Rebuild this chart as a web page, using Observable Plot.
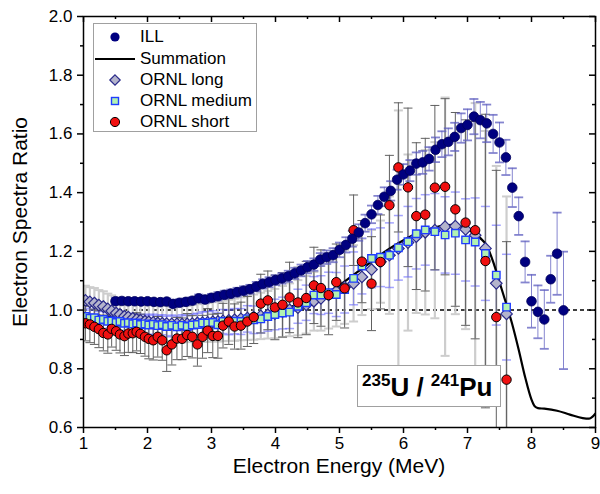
<!DOCTYPE html>
<html><head><meta charset="utf-8">
<script src="https://cdn.jsdelivr.net/npm/d3@7"></script>
<script src="https://cdn.jsdelivr.net/npm/@observablehq/plot@0.6"></script>
<style>
body{margin:0;background:#fff;}
#wrap{position:relative;width:600px;height:494px;font-family:"Liberation Sans",Arial,sans-serif;color:#000;}
#wrap svg{position:absolute;left:0;top:0;}
.ttl{position:absolute;font-size:21px;white-space:nowrap;}
#legend{position:absolute;left:93px;top:23px;width:164px;height:109px;border:1px solid #a0a0a0;background:#fff;box-sizing:border-box;}
.li{position:absolute;left:0;height:20px;width:160px;}
.li svg{position:absolute;left:0;top:0;}
.li span{position:absolute;left:46px;top:0;font-size:17px;line-height:20px;}
#iso{position:absolute;left:357px;top:365px;width:144px;height:42px;border:1px solid #a0a0a0;background:#fff;box-sizing:border-box;font-weight:bold;font-size:26px;white-space:nowrap;}
#iso .t{position:absolute;left:4px;top:6px;line-height:30px;}
#iso sup{font-size:17px;vertical-align:top;position:relative;top:-6px;}
</style></head><body><div id="wrap"></div>
<script>
// ---------- data ----------
const illE = [1.5,1.6,1.7,1.8,1.9,2.0,2.1,2.2,2.3,2.4,2.5,2.6,2.7,2.8,2.9,3.0,3.1,3.2,3.3,3.4,3.5,3.6,3.7,3.8,3.9,4.0,4.1,4.2,4.3,4.4,4.5,4.6,4.7,4.8,4.9,5.0,5.1,5.2,5.3,5.4,5.5,5.6,5.7,5.8,5.9,6.0,6.1,6.2,6.3,6.4,6.5,6.6,6.7,6.8,6.9,7.0,7.1,7.2,7.3,7.4,7.5,7.6,7.7,7.8,7.9,8.0,8.1,8.2,8.3,8.4,8.5];
const illV = [1.030,1.031,1.030,1.030,1.029,1.030,1.028,1.027,1.029,1.021,1.025,1.028,1.032,1.040,1.036,1.042,1.047,1.052,1.056,1.061,1.066,1.071,1.080,1.089,1.095,1.102,1.108,1.115,1.125,1.135,1.146,1.155,1.172,1.180,1.187,1.205,1.222,1.243,1.264,1.296,1.326,1.358,1.386,1.406,1.444,1.462,1.475,1.499,1.503,1.515,1.546,1.565,1.573,1.590,1.620,1.631,1.659,1.647,1.636,1.600,1.571,1.520,1.417,1.320,1.164,1.030,0.994,0.968,1.105,1.192,0.999];
const illErr = [0.012,0.011,0.011,0.010,0.010,0.010,0.010,0.011,0.011,0.012,0.012,0.012,0.012,0.013,0.013,0.013,0.014,0.014,0.014,0.015,0.015,0.015,0.016,0.016,0.017,0.017,0.018,0.019,0.019,0.020,0.021,0.021,0.022,0.023,0.024,0.025,0.026,0.027,0.028,0.029,0.030,0.031,0.032,0.033,0.034,0.035,0.036,0.038,0.039,0.040,0.042,0.044,0.046,0.048,0.050,0.053,0.060,0.062,0.064,0.065,0.068,0.060,0.066,0.064,0.070,0.090,0.090,0.100,0.080,0.140,0.200];

const ornlE = [1.03,1.10,1.17,1.24,1.31,1.38,1.44,1.51,1.57,1.64,1.70,1.77,1.83,1.89,1.96,2.02,2.09,2.16,2.23,2.30,2.38,2.46,2.54,2.62,2.70,2.78,2.86,2.94,3.02,3.10,3.18,3.27,3.36,3.46,3.56,3.66,3.77,3.88,3.99,4.11,4.22,4.35,4.48,4.60,4.71,4.83,4.95,5.08,5.22,5.35,5.50,5.64,5.78,5.92,6.07,6.20,6.34,6.49,6.65,6.81,6.97,7.12,7.28,7.45,7.61];
const longV = [1.033,1.028,1.024,1.017,1.012,1.004,0.997,0.990,0.985,0.979,0.976,0.972,0.968,0.965,0.962,0.960,0.958,0.956,0.955,0.954,0.953,0.953,0.952,0.953,0.954,0.956,0.957,0.958,0.960,0.961,0.963,0.965,0.967,0.970,0.973,0.976,0.980,0.984,0.988,0.995,1.001,1.008,1.018,1.030,1.040,1.052,1.064,1.078,1.091,1.113,1.138,1.165,1.187,1.210,1.230,1.250,1.265,1.272,1.284,1.286,1.275,1.255,1.210,1.091,0.987];
const longErr = [0.050,0.050,0.051,0.051,0.052,0.052,0.053,0.053,0.054,0.054,0.055,0.055,0.056,0.056,0.057,0.057,0.058,0.058,0.059,0.060,0.060,0.061,0.062,0.062,0.063,0.064,0.065,0.066,0.067,0.068,0.069,0.070,0.072,0.073,0.075,0.077,0.079,0.081,0.084,0.087,0.090,0.094,0.098,0.100,0.110,0.115,0.120,0.125,0.130,0.130,0.135,0.140,0.200,0.470,0.300,0.260,0.280,0.300,0.440,0.300,0.340,0.450,0.400,0.400,0.400];
const mediumV = [0.978,0.972,0.974,0.966,0.968,0.962,0.963,0.958,0.961,0.955,0.957,0.953,0.956,0.951,0.953,0.949,0.952,0.947,0.950,0.944,0.948,0.943,0.948,0.944,0.949,0.951,0.956,0.956,0.958,0.950,0.961,0.958,0.962,0.961,0.970,0.967,0.970,0.978,0.985,0.990,0.993,1.013,1.025,1.051,1.051,1.059,1.053,1.070,1.108,1.150,1.176,1.180,1.187,1.212,1.233,1.260,1.273,1.267,1.256,1.262,1.239,1.232,1.193,1.119,1.010];
const mediumErr = [0.028,0.028,0.029,0.029,0.030,0.030,0.030,0.031,0.031,0.031,0.032,0.032,0.032,0.033,0.033,0.033,0.034,0.034,0.034,0.035,0.035,0.036,0.036,0.037,0.037,0.038,0.038,0.039,0.040,0.040,0.041,0.042,0.043,0.044,0.045,0.047,0.048,0.050,0.052,0.054,0.056,0.058,0.060,0.063,0.066,0.070,0.075,0.080,0.090,0.095,0.100,0.100,0.110,0.110,0.120,0.120,0.120,0.130,0.130,0.140,0.140,0.150,0.160,0.170,0.180];
const shortV = [0.955,0.951,0.943,0.935,0.922,0.917,0.936,0.928,0.917,0.911,0.920,0.921,0.926,0.919,0.909,0.902,0.897,0.909,0.897,0.863,0.883,0.903,0.902,0.915,0.909,0.883,0.909,0.930,0.912,0.912,0.947,0.961,0.944,0.947,0.961,0.976,1.022,1.033,1.009,1.018,1.043,1.026,1.041,1.084,1.075,1.051,1.095,1.074,1.272,1.165,1.090,1.164,1.357,1.486,1.418,1.320,1.325,1.417,1.420,1.343,1.298,1.272,1.167,0.976,0.763];
const shortErr = [0.060,0.062,0.060,0.063,0.061,0.064,0.062,0.065,0.063,0.066,0.064,0.066,0.065,0.067,0.066,0.068,0.067,0.069,0.068,0.072,0.070,0.072,0.071,0.073,0.072,0.074,0.073,0.075,0.074,0.076,0.076,0.078,0.077,0.080,0.085,0.090,0.100,0.100,0.110,0.110,0.120,0.120,0.125,0.130,0.130,0.135,0.130,0.135,0.120,0.140,0.160,0.160,0.170,0.220,0.270,0.250,0.260,0.280,0.300,0.330,0.350,0.370,0.500,0.500,0.470];

const sumE = [1.0,1.25,1.5,1.75,2.0,2.25,2.5,2.75,3.0,3.25,3.5,3.75,4.0,4.25,4.5,4.75,5.0,5.25,5.5,5.75,6.0,6.25,6.5,6.75,7.0,7.2,7.3,7.4,7.5,7.6,7.7,7.8,7.9,8.0,8.05,8.1,8.2,8.4,8.6,8.8,8.9,8.95,9.0];
const sumV = [0.985,0.980,0.974,0.968,0.962,0.958,0.956,0.957,0.962,0.969,0.977,0.987,0.998,1.012,1.030,1.054,1.085,1.125,1.165,1.205,1.238,1.265,1.282,1.290,1.275,1.245,1.220,1.165,1.095,1.025,0.951,0.865,0.772,0.695,0.672,0.666,0.664,0.657,0.644,0.632,0.630,0.636,0.648];

const xMajor = [1,2,3,4,5,6,7,8,9];
const xMinor = [1.5,2.5,3.5,4.5,5.5,6.5,7.5,8.5];
const yMajor = [0.6,0.8,1.0,1.2,1.4,1.6,1.8,2.0];
const yMinor = [0.7,0.9,1.1,1.3,1.5,1.7,1.9];
const yTickLabels = ["0.6","0.8","1.0","1.2","1.4","1.6","1.8","2.0"];
const refLine = [1.0];

const seriesNames = ["ILL","Summation","ORNL long","ORNL medium","ORNL short"];
const xTitle = "Electron Energy (MeV)";
const yTitle = "Electron Spectra Ratio";

// ---------- tables ----------
const ill = illE.map((e,i)=>({e, v: illV[i], lo: illV[i]-illErr[i], hi: illV[i]+illErr[i]}));
const mk = (vals, errs) => ornlE.map((e,i)=>({e, v: vals[i], lo: vals[i]-errs[i], hi: vals[i]+errs[i]}));
const long = mk(longV, longErr);
const medium = mk(mediumV, mediumErr);
const short = mk(shortV, shortErr);
const summation = sumE.map((e,i)=>({e, v: sumV[i]}));

const cap = {draw(ctx, size){ const r = Math.sqrt(size/Math.PI); ctx.moveTo(-r,0); ctx.lineTo(r,0); }};

function bars(data, stroke, w, capW, capR, op){
  return [
    Plot.ruleX(data, {x:"e", y1:"lo", y2:"hi", stroke, strokeWidth:w, strokeOpacity:op, clip:true}),
    Plot.dot(data, {x:"e", y:"lo", symbol:cap, r:capR, stroke, strokeWidth:capW, strokeOpacity:op, fill:"none", clip:true}),
    Plot.dot(data, {x:"e", y:"hi", symbol:cap, r:capR, stroke, strokeWidth:capW, strokeOpacity:op, fill:"none", clip:true})
  ];
}

const W = 600, H = 494, mL = 83, mR = 5, mT = 16, mB = 67;
const pw = W - mL - mR, ph = H - mT - mB;

const chart = Plot.plot({
  width: W, height: H,
  marginLeft: mL, marginRight: mR, marginTop: mT, marginBottom: mB,
  style: {fontFamily: "'Liberation Sans', Arial, sans-serif", fontSize: "17px", color: "#000", background: "transparent"},
  x: {domain: [1, 9]},
  y: {domain: [0.6, 2.0]},
  marks: [
    Plot.ruleY(refLine, {stroke:"#000", strokeWidth:1.4, strokeDasharray:"4,3"}),
    ...bars(long, "#cdcdcd", 2.2, 2, 4.5, 1),
    ...bars(medium, "#4a4aff", 1, 1.5, 4.5, 0.5),
    ...bars(short, "#606060", 1, 1, 4.5, 1),
    ...bars(ill, "#5c5cbf", 1, 1.8, 4.5, 0.75),
    Plot.line(summation, {x:"e", y:"v", curve:"monotone-x", stroke:"#000", strokeWidth:2.2, clip:true}),
    Plot.dot(long, {x:"e", y:"v", symbol:"diamond2", r:5.2, fill:"#b4b4cc", stroke:"#2a2a8a", strokeWidth:1.2, clip:true}),
    Plot.dot(medium, {x:"e", y:"v", symbol:"square", r:4.2, fill:"#b2f2b2", stroke:"#1f3dff", strokeWidth:1.4, clip:true}),
    Plot.dot(short, {x:"e", y:"v", r:4.7, fill:"#f01010", stroke:"#000", strokeWidth:1, clip:true}),
    Plot.dot(ill, {x:"e", y:"v", r:4.8, fill:"#000080", stroke:"#00005a", strokeWidth:0.8, clip:true}),
    Plot.frame({stroke:"#000", strokeWidth:1.5}),
    Plot.axisX({ticks: xMajor, tickSize: 6, tickPadding: 3, strokeWidth:1.5, label: null, tickFormat: d => String(d), fontSize: 17}),
    Plot.axisX({ticks: xMinor, tickSize: 3, strokeWidth:1.5, label: null, tickFormat: () => ""}),
    Plot.axisY({ticks: yMajor, tickSize: 6, tickPadding: 5, strokeWidth:1.5, label: null, tickFormat: d => yTickLabels[yMajor.findIndex(t => Math.abs(t-d) < 1e-9)], fontSize: 17}),
    Plot.axisY({ticks: yMinor, tickSize: 3, strokeWidth:1.5, label: null, tickFormat: () => ""}),
    Plot.tickX(xMajor, {x: d => d, insetBottom: ph - 6, stroke:"#000", strokeWidth:1.5}),
    Plot.tickX(xMinor, {x: d => d, insetBottom: ph - 3, stroke:"#000", strokeWidth:1.5}),
    Plot.tickY(yMajor, {y: d => d, insetLeft: pw - 6, stroke:"#000", strokeWidth:1.5}),
    Plot.tickY(yMinor, {y: d => d, insetLeft: pw - 3, stroke:"#000", strokeWidth:1.5})
  ]
});

const wrap = document.getElementById("wrap");
wrap.appendChild(chart);

const xt = document.createElement("div");
xt.className = "ttl"; xt.textContent = xTitle;
xt.style.left = (mL + pw/2) + "px"; xt.style.top = "454px"; xt.style.transform = "translateX(-50%)";
wrap.appendChild(xt);
const yt = document.createElement("div");
yt.className = "ttl"; yt.textContent = yTitle;
yt.style.left = "20px"; yt.style.top = (mT + ph/2) + "px"; yt.style.transform = "translate(-50%,-50%) rotate(-90deg)";
wrap.appendChild(yt);

const legend = document.createElement("div");
legend.id = "legend";
const symSvg = [
  '<svg width="44" height="20"><circle cx="21" cy="10" r="4.6" fill="#000080"/></svg>',
  '<svg width="44" height="20"><line x1="1" y1="10" x2="41" y2="10" stroke="#000" stroke-width="2.2"/></svg>',
  '<svg width="44" height="20"><path d="M21,4.8L26.2,10L21,15.2L15.8,10Z" fill="#b4b4cc" stroke="#2a2a8a" stroke-width="1.2"/></svg>',
  '<svg width="44" height="20"><rect x="17.5" y="6.5" width="7" height="7" fill="#b2f2b2" stroke="#1f3dff" stroke-width="1.4"/></svg>',
  '<svg width="44" height="20"><circle cx="21" cy="10" r="4.6" fill="#f01010" stroke="#000" stroke-width="1"/></svg>'
];
const rowTops = [3, 25, 46, 67, 88];
seriesNames.forEach((n, i) => {
  const d = document.createElement("div");
  d.className = "li"; d.style.top = rowTops[i] + "px";
  d.innerHTML = symSvg[i] + "<span></span>";
  d.querySelector("span").textContent = n;
  legend.appendChild(d);
});
wrap.appendChild(legend);

const iso = document.createElement("div");
iso.id = "iso";
iso.innerHTML = '<div class="t"><sup>235</sup>U / <sup>241</sup>Pu</div>';
wrap.appendChild(iso);
</script>
</body></html>
